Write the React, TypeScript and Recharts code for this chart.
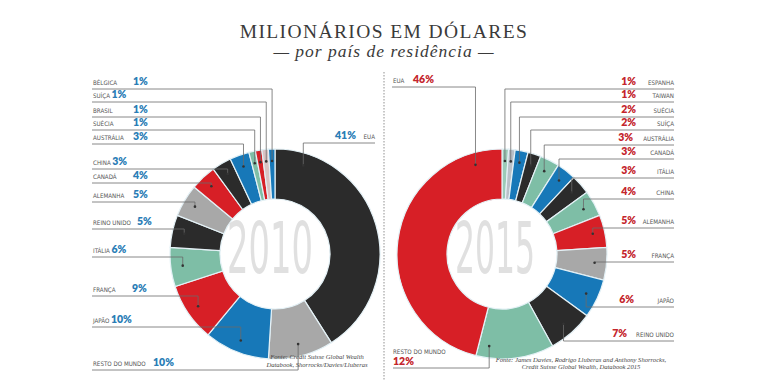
import React from 'react';
import { PieChart, Pie, Cell } from 'recharts';

// milionários por país, em % do total
const countries2010 = ['EUA', 'RESTO DO MUNDO', 'JAPÃO', 'FRANÇA', 'ITÁLIA', 'REINO UNIDO', 'ALEMANHA', 'CANADÁ', 'CHINA', 'AUSTRÁLIA', 'SUÉCIA', 'BRASIL', 'SUÍÇA', 'BÉLGICA'];
const shares2010 = [41, 10, 10, 9, 6, 5, 5, 4, 3, 3, 1, 1, 1, 1];

const countries2015 = ['ESPANHA', 'TAIWAN', 'SUÉCIA', 'SUÍÇA', 'AUSTRÁLIA', 'CANADÁ', 'ITÁLIA', 'CHINA', 'ALEMANHA', 'FRANÇA', 'JAPÃO', 'REINO UNIDO', 'RESTO DO MUNDO', 'EUA'];
const shares2015 = [1, 1, 2, 2, 3, 3, 3, 4, 5, 5, 6, 7, 12, 46];

const BLACK = '#2b2b2b';
const GRAY = '#a8a8a8';
const BLUE = '#1778b8';
const RED = '#d71f26';
const TEAL = '#7ebea6';

const colors2010 = [BLACK, GRAY, BLUE, RED, TEAL, BLACK, GRAY, RED, BLACK, BLUE, TEAL, RED, '#d9c3c3', BLUE];
const colors2015 = ['#9ccab7', '#b9c0c8', BLUE, BLACK, TEAL, BLUE, BLACK, TEAL, RED, GRAY, BLUE, BLACK, TEAL, RED];

const data2010 = countries2010.map((name, i) => ({ name, value: shares2010[i] }));
const data2015 = countries2015.map((name, i) => ({ name, value: shares2015[i] }));

// label layout (not data)
type Row = { side: 'left' | 'right' | 'stack'; lineY: number; edge: number; pctX?: number; frac?: number };

const rows2010: Row[] = [
  { side: 'right', lineY: 143, edge: 375, pctX: 356, frac: 0.12 },
  { side: 'left', lineY: 370, edge: 92, pctX: 153 },
  { side: 'left', lineY: 327, edge: 92 },
  { side: 'left', lineY: 296, edge: 92, pctX: 132 },
  { side: 'left', lineY: 257, edge: 92 },
  { side: 'left', lineY: 229, edge: 92, pctX: 137 },
  { side: 'left', lineY: 202, edge: 92, pctX: 133 },
  { side: 'left', lineY: 183, edge: 92, pctX: 133 },
  { side: 'left', lineY: 169, edge: 92 },
  { side: 'left', lineY: 144, edge: 92, pctX: 133 },
  { side: 'left', lineY: 130, edge: 92, pctX: 133 },
  { side: 'left', lineY: 117, edge: 92, pctX: 133 },
  { side: 'left', lineY: 102, edge: 92 },
  { side: 'left', lineY: 89, edge: 92, pctX: 133 },
];

const rows2015: Row[] = [
  { side: 'right', lineY: 89, edge: 674, pctX: 636 },
  { side: 'right', lineY: 102, edge: 674, pctX: 636 },
  { side: 'right', lineY: 117, edge: 674, pctX: 636 },
  { side: 'right', lineY: 130, edge: 674, pctX: 636 },
  { side: 'right', lineY: 145, edge: 674, pctX: 633 },
  { side: 'right', lineY: 159, edge: 674, pctX: 636 },
  { side: 'right', lineY: 178, edge: 674, pctX: 636 },
  { side: 'right', lineY: 199, edge: 674, pctX: 636 },
  { side: 'right', lineY: 228, edge: 674, pctX: 636 },
  { side: 'right', lineY: 262, edge: 674, pctX: 636 },
  { side: 'right', lineY: 307, edge: 674, pctX: 634 },
  { side: 'right', lineY: 341, edge: 674, pctX: 627 },
  { side: 'stack', lineY: 368, edge: 393, frac: 0.85 },
  { side: 'left', lineY: 87, edge: 392, pctX: 413, frac: 0.9 },
];

const RAD = Math.PI / 180;
const NARROW = '"Liberation Sans Narrow", "DejaVu Sans Condensed", sans-serif';
const BOLD = 'Lato, "Open Sans", sans-serif';
const SERIF = '"Liberation Serif", "DejaVu Serif", serif';

function leaderLabel(rows: Row[], pctColor: string) {
  return (props: any) => {
    const { cx, cy, outerRadius, midAngle, startAngle, endAngle, index, value } = props;
    const name = props.payload?.name ?? props.name;
    const row = rows[index];
    let angle = midAngle;
    if (row.frac !== undefined && startAngle !== undefined && endAngle !== undefined) {
      angle = startAngle + (endAngle - startAngle) * row.frac;
    }
    const r = outerRadius - 12;
    const ax = cx + r * Math.cos(-angle * RAD);
    const ay = cy + r * Math.sin(-angle * RAD);
    const pct = `${value}%`;
    const nameStyle = { fontFamily: NARROW, fontSize: 6.2, fill: '#555' };
    const pctStyle = { fontFamily: BOLD, fontSize: 10.5, fontWeight: 800, fill: pctColor };

    let texts: React.ReactNode = null;
    if (row.side === 'left') {
      texts = (
        <text x={row.edge + 1} y={row.lineY - 4} {...nameStyle}>
          {name}
          {row.pctX !== undefined ? (
            <tspan x={row.pctX} {...pctStyle}>{pct}</tspan>
          ) : (
            <tspan dx={1.5} {...pctStyle}>{pct}</tspan>
          )}
        </text>
      );
    } else if (row.side === 'right') {
      texts = (
        <g>
          <text x={row.edge} y={row.lineY - 4} textAnchor="end" {...nameStyle}>{name}</text>
          <text x={row.pctX} y={row.lineY - 4} textAnchor="end" {...pctStyle}>{pct}</text>
        </g>
      );
    } else {
      texts = (
        <g>
          <text x={row.edge} y={row.lineY - 14} {...nameStyle}>{name}</text>
          <text x={row.edge} y={row.lineY - 3} {...pctStyle}>{pct}</text>
        </g>
      );
    }

    return (
      <g key={`lbl-${index}`}>
        <path d={`M${row.edge},${row.lineY} H${ax} V${ay}`} fill="none" stroke="#6a6a6a" strokeWidth={0.8} />
        <circle cx={ax} cy={ay} r={1.3} fill="#333" />
        {texts}
      </g>
    );
  };
}

export default function App() {
  return (
    <div style={{ position: 'absolute', left: 0, top: 0, width: 764, height: 386, background: '#fff' }}>
      <PieChart width={764} height={386} style={{ position: 'absolute', left: 0, top: 0 }}>
        <Pie
          data={data2010}
          dataKey="value"
          nameKey="name"
          cx={270}
          cy={249}
          innerRadius={55}
          outerRadius={105}
          startAngle={90}
          endAngle={-270}
          stroke="#e4f1f6"
          strokeWidth={1.2}
          label={leaderLabel(rows2010, '#2a7db6')}
          labelLine={false}
          isAnimationActive={false}
        >
          {data2010.map((d, i) => (
            <Cell key={d.name} fill={colors2010[i]} />
          ))}
        </Pie>
        <Pie
          data={data2015}
          dataKey="value"
          nameKey="name"
          cx={497}
          cy={249}
          innerRadius={55}
          outerRadius={105}
          startAngle={90}
          endAngle={-270}
          stroke="#e4f1f6"
          strokeWidth={1.2}
          label={leaderLabel(rows2015, '#c4252c')}
          labelLine={false}
          isAnimationActive={false}
        >
          {data2015.map((d, i) => (
            <Cell key={d.name} fill={colors2015[i]} />
          ))}
        </Pie>
      </PieChart>

      <svg width={764} height={386} style={{ position: 'absolute', left: 0, top: 0, pointerEvents: 'none' }}>
        <text x={384} y={38} textAnchor="middle" fontFamily={SERIF} fontSize={19.5} letterSpacing={1.4} fill="#3a3a3a">
          MILIONÁRIOS EM DÓLARES
        </text>
        <text x={384} y={57} textAnchor="middle" fontFamily={SERIF} fontStyle="italic" fontSize={17.5} letterSpacing={1} fill="#3a3a3a">
          — por país de residência —
        </text>

        <line x1={384} y1={72} x2={384} y2={380} stroke="#c8c8c8" strokeWidth={2} strokeDasharray="1.5 1.5" />

        <text x={270} y={273} textAnchor="middle" fontFamily={NARROW} fontSize={72} fill="#e0e0e0" textLength={86} lengthAdjust="spacingAndGlyphs">
          2010
        </text>
        <text x={495} y={273} textAnchor="middle" fontFamily={NARROW} fontSize={72} fill="#e0e0e0" textLength={80} lengthAdjust="spacingAndGlyphs">
          2015
        </text>

        <g fontFamily={SERIF} fontStyle="italic" fontSize={6.6} fill="#444" textAnchor="middle">
          <text x={317} y={359}>Fonte: Credit Suisse Global Wealth</text>
          <text x={317} y={367}>Databook, Shorrocks/Davies/Lluberas</text>
          <text x={581} y={362}>Fonte: James Davies, Rodrigo Lluberas and Anthony Shorrocks,</text>
          <text x={581} y={369}>Credit Suisse Global Wealth, Databook 2015</text>
        </g>
      </svg>
    </div>
  );
}
